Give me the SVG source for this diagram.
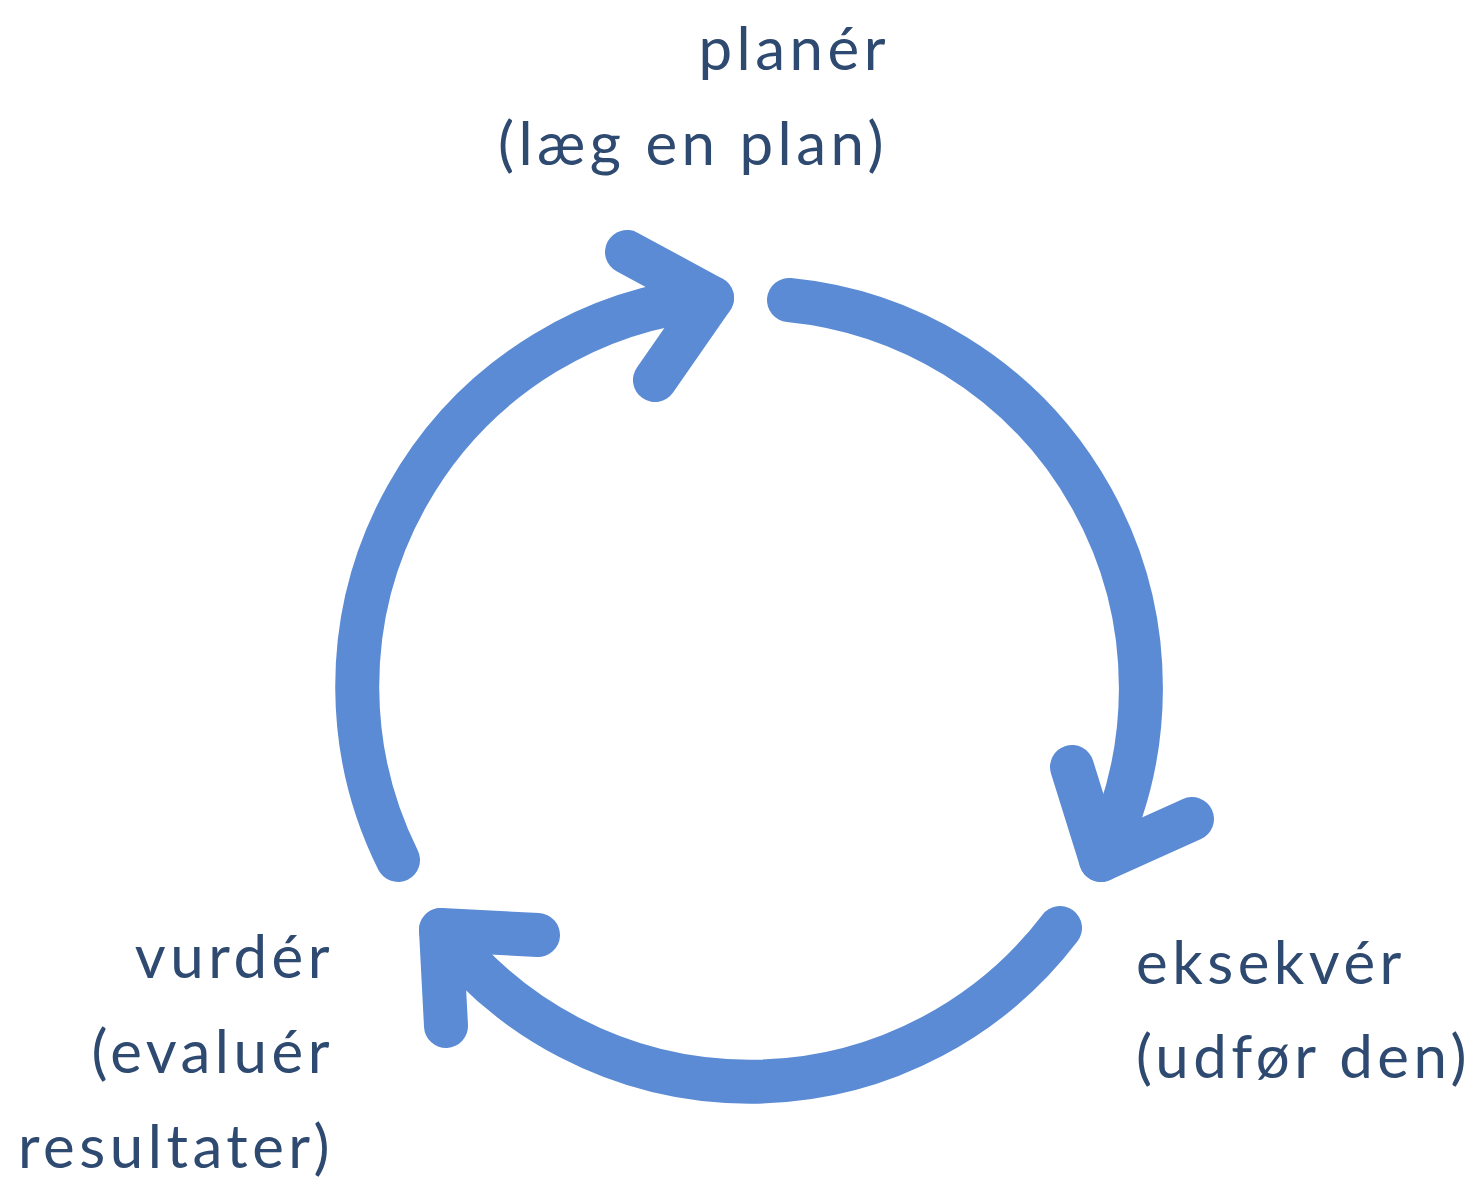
<svg xmlns="http://www.w3.org/2000/svg" width="1472" height="1181" viewBox="0 0 1472 1181">
<style>
.arc{fill:none;stroke:#5B8BD4;stroke-width:44;stroke-linecap:round;stroke-linejoin:round}
.lbl{font-family:Lato,"Noto Sans","Liberation Sans",sans-serif;font-size:60px;letter-spacing:4.5px;fill:#2F4A70}
</style>
<rect width="1472" height="1181" fill="#ffffff"/>
<g id="connectors">
<path class="arc" d="M789 300 A390 390 0 0 1 1101 860"/>
<polyline class="arc" points="1072,767 1101,860 1192,819"/>
<path class="arc" d="M1060 928 A390 390 0 0 1 441 930"/>
<polyline class="arc" points="538,935 441,930 446,1026"/>
<path class="arc" d="M398 860 A390 390 0 0 1 712 298"/>
<polyline class="arc" points="627,252 712,298 655,380"/>
</g>
<g id="plan">
<text class="lbl" text-anchor="end" x="890" y="70">planér</text>
<text class="lbl" text-anchor="end" x="888" y="165">(læg en plan)</text>
</g>
<g id="execute">
<text class="lbl" x="1136" y="984">eksekvér</text>
<text class="lbl" x="1136" y="1078">(udfør den)</text>
</g>
<g id="evaluate">
<text class="lbl" text-anchor="end" x="334" y="978">vurdér</text>
<text class="lbl" text-anchor="end" x="334" y="1073">(evaluér</text>
<text class="lbl" text-anchor="end" x="334" y="1168">resultater)</text>
</g>
</svg>
